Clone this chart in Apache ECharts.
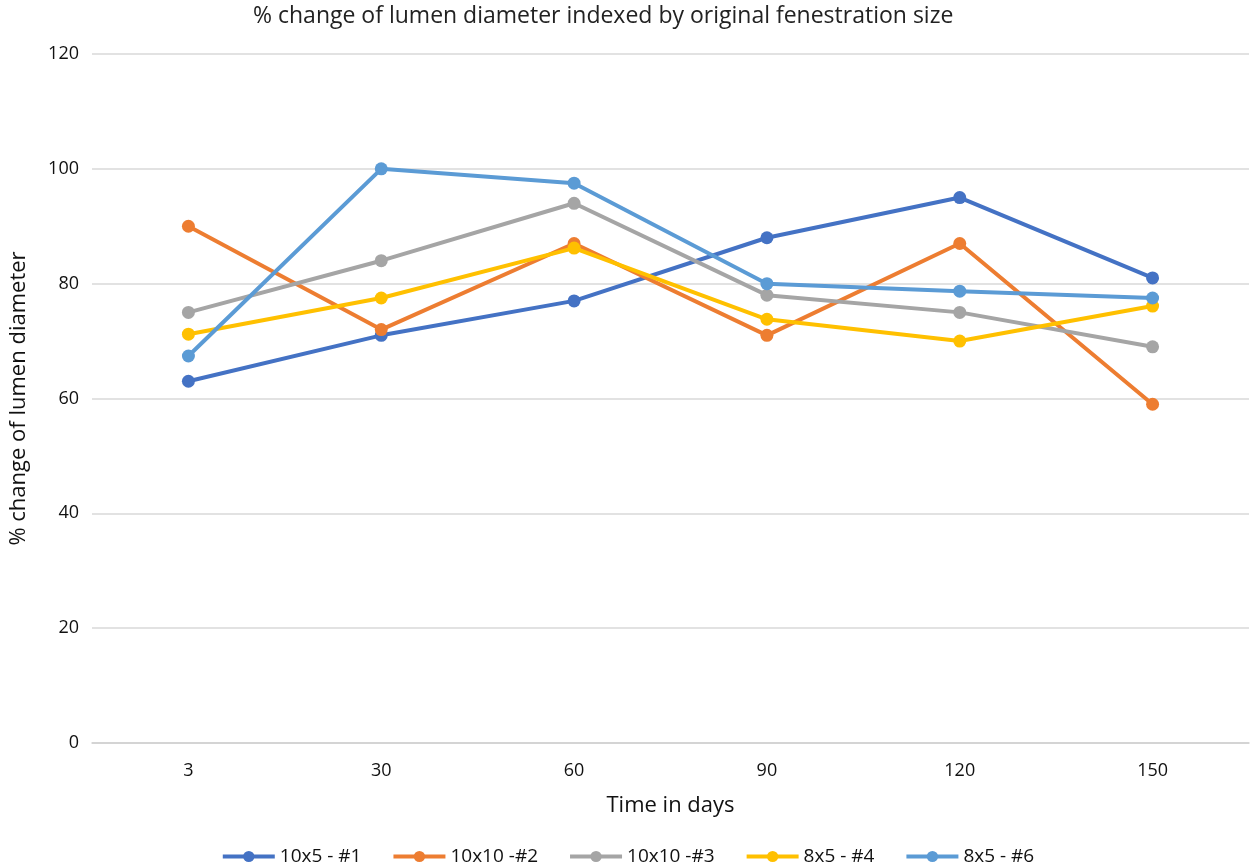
<!DOCTYPE html>
<html>
<head>
<meta charset="utf-8">
<script src="https://cdn.jsdelivr.net/npm/echarts@6/dist/echarts.min.js"></script>
<style>
html,body{margin:0;padding:0;background:#fff;}
#main{width:1255px;height:868px;}
</style>
</head>
<body>
<div id="main"></div>
<script>
const categories = ['3','30','60','90','120','150'];
const seriesNames = ['10x5 - #1','10x10 -#2','10x10 -#3','8x5 - #4','8x5 - #6'];
const s1 = [63, 71, 77, 88, 95, 81];
const s2 = [90, 72, 87, 71, 87, 59];
const s3 = [75, 84, 94, 78, 75, 69];
const s4 = [71.2, 77.5, 86.2, 73.8, 70, 76.1];
const s5 = [67.4, 100, 97.5, 80, 78.7, 77.5];
const colors = ['#4472C4','#ED7D31','#A5A5A5','#FFC000','#5B9BD5'];
const yTicks = [0,20,40,60,80,100,120];

const font = "'Open Sans', 'Noto Sans', sans-serif";
const chart = echarts.init(document.getElementById('main'));
const data = [s1,s2,s3,s4,s5];
chart.setOption({
  animation:false,
  textStyle:{fontFamily:font},
  title:{
    text:'% change of lumen diameter indexed by original fenestration size',
    left:248, top:0,
    textStyle:{fontSize:23,fontWeight:'normal',color:'#222',fontFamily:font}
  },
  grid:{left:92,right:6,top:54,bottom:125},
  xAxis:{
    type:'category', data:categories, boundaryGap:true,
    name:'Time in days', nameLocation:'middle', nameGap:52,
    nameTextStyle:{fontSize:22,color:'#111',fontFamily:font},
    axisLine:{lineStyle:{color:'#d0d0d0',width:1.5}},
    axisTick:{show:false},
    axisLabel:{fontSize:18,color:'#111',margin:19,fontFamily:font}
  },
  yAxis:{
    type:'value', min:yTicks[0], max:yTicks[yTicks.length-1], interval:20,
    name:'% change of lumen diameter', nameLocation:'middle', nameGap:62,
    nameTextStyle:{fontSize:22,color:'#111',fontFamily:font},
    axisLine:{show:false}, axisTick:{show:false},
    axisLabel:{fontSize:18,color:'#111',margin:13,fontFamily:font}
  },
  legend:{
    data:seriesNames, top:842, left:'center',
    itemWidth:52, itemHeight:14, itemGap:30,
    lineStyle:{width:4},
    textStyle:{fontSize:19,color:'#111',fontFamily:font}
  },
  series:data.map((d,i)=>({
    name:seriesNames[i], type:'line', data:d,
    symbol:'circle', symbolSize:13,
    lineStyle:{width:4,color:colors[i]},
    itemStyle:{color:colors[i]}
  }))
});
chart.setOption({yAxis:{splitLine:{lineStyle:{color:'#d9d9d9',width:1.5}}}});
</script>
</body>
</html>
